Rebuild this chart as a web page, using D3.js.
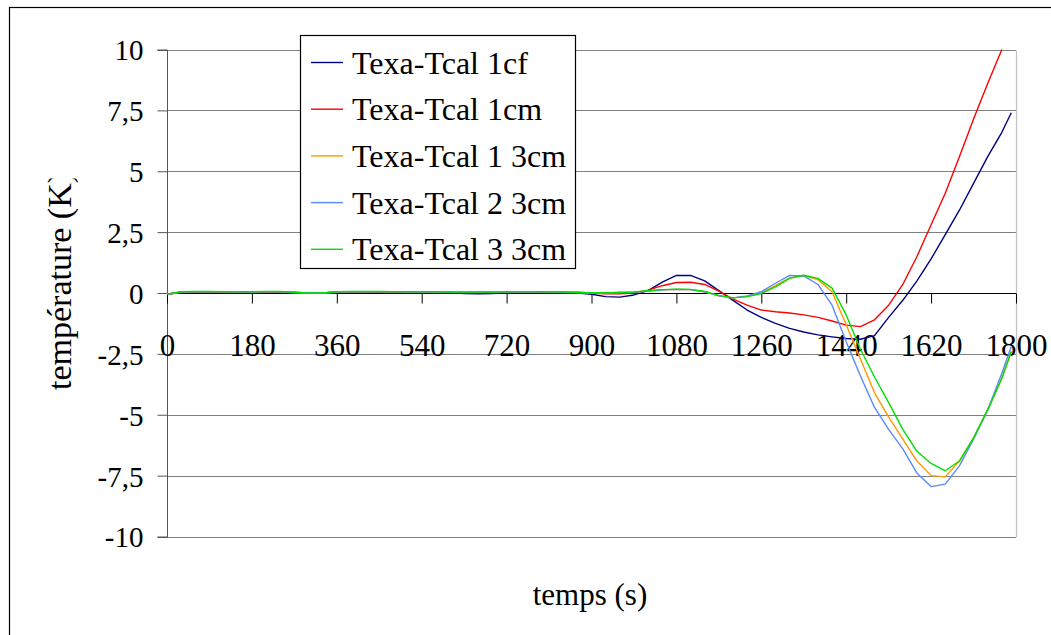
<!DOCTYPE html>
<html>
<head>
<meta charset="utf-8">
<script src="https://cdn.jsdelivr.net/npm/d3@7"></script>
<style>
  html, body { margin: 0; padding: 0; background: #fff; }
  svg { display: block; }
  svg text { font-family: "Liberation Serif", "Times New Roman", Times, "DejaVu Serif", serif !important; fill: #000; }
</style>
</head>
<body>
<svg id="chart" width="1051" height="635"></svg>
<script>
// ---- data ----
const times = [0,30,60,90,120,150,180,210,240,270,300,330,360,390,420,450,480,510,540,570,
  600,630,660,690,720,750,780,810,840,870,900,930,960,990,1020,1050,1080,1110,1140,1170,
  1200,1230,1260,1290,1320,1350,1380,1410,1440,1470,1500,1530,1560,1590,1620,1650,1680,1710,1740,1770,1790];

const seriesNames = ["Texa-Tcal 1cf", "Texa-Tcal 1cm", "Texa-Tcal 1 3cm", "Texa-Tcal 2 3cm", "Texa-Tcal 3 3cm"];
const seriesColors = ["#000080", "#ff0000", "#ff9900", "#5b87ff", "#00e000"];

const t1cf = [-0.05,0.04,0.05,0.05,0.04,0.04,0.04,0.05,0.05,0.02,0.0,0.0,0.04,0.05,0.05,0.05,0.05,0.04,0.04,0.03,
  0.02,-0.02,-0.03,-0.02,0.02,0.03,0.03,0.03,0.02,0.0,-0.05,-0.15,-0.17,-0.08,0.1,0.45,0.72,0.72,0.5,0.1,
  -0.3,-0.7,-1.0,-1.25,-1.45,-1.6,-1.72,-1.8,-1.87,-1.9,-1.75,-1.0,-0.3,0.5,1.4,2.4,3.4,4.5,5.6,6.6,7.4];

const t1cm = [-0.05,0.03,0.04,0.05,0.04,0.03,0.02,0.04,0.05,0.02,0.0,0.0,0.03,0.04,0.04,0.03,0.04,0.02,0.02,0.02,
  0.02,0.01,0.02,0.02,0.03,0.03,0.03,0.02,0.02,0.02,0.0,-0.03,-0.03,0.0,0.12,0.3,0.43,0.44,0.35,0.08,
  -0.25,-0.5,-0.7,-0.77,-0.82,-0.9,-1.0,-1.15,-1.32,-1.38,-1.1,-0.5,0.35,1.5,2.8,4.1,5.6,7.15,8.6,10.0,null];

const t13cm = [-0.05,0.04,0.05,0.05,0.05,0.04,0.04,0.05,0.05,0.02,0.0,0.0,0.04,0.05,0.05,0.05,0.05,0.04,0.04,0.04,
  0.03,0.03,0.03,0.03,0.04,0.04,0.04,0.04,0.03,0.02,0.0,0.0,0.02,0.03,0.08,0.13,0.15,0.14,0.05,-0.12,
  -0.2,-0.15,0.0,0.3,0.62,0.72,0.55,0.05,-1.3,-2.7,-4.1,-5.1,-6.0,-6.9,-7.5,-7.55,-6.9,-5.95,-4.8,-3.5,-2.4];

const t23cm = [-0.05,0.04,0.05,0.05,0.05,0.04,0.04,0.05,0.05,0.02,0.0,0.0,0.04,0.05,0.05,0.05,0.05,0.04,0.04,0.04,
  0.03,0.03,0.03,0.03,0.04,0.04,0.04,0.04,0.03,0.02,0.0,0.0,0.02,0.03,0.08,0.13,0.15,0.14,0.05,-0.12,
  -0.2,-0.12,0.05,0.4,0.72,0.7,0.35,-0.5,-2.0,-3.4,-4.7,-5.6,-6.4,-7.4,-7.95,-7.85,-7.1,-6.0,-4.8,-3.3,-2.2];

const t33cm = [-0.05,0.05,0.06,0.06,0.05,0.05,0.05,0.06,0.06,0.03,0.0,0.0,0.05,0.06,0.06,0.06,0.05,0.05,0.05,0.05,
  0.04,0.04,0.04,0.04,0.05,0.05,0.05,0.05,0.04,0.03,0.01,0.01,0.02,0.04,0.09,0.14,0.16,0.15,0.06,-0.1,
  -0.2,-0.15,-0.02,0.25,0.6,0.73,0.6,0.2,-0.9,-2.3,-3.45,-4.5,-5.6,-6.5,-7.0,-7.3,-6.9,-5.95,-4.8,-3.5,-2.4];

const seriesValues = [t1cf, t1cm, t13cm, t23cm, t33cm];

const xTicks = [0,180,360,540,720,900,1080,1260,1440,1620,1800];
const yTicks = [-10,-7.5,-5,-2.5,0,2.5,5,7.5,10];
const yTickLabels = ["-10","-7,5","-5","-2,5","0","2,5","5","7,5","10"];
const xTitle = "temps (s)";
const yTitle = "température (K)";

// ---- layout ----
const FONT = "'Liberation Serif', 'Times New Roman', Times, 'DejaVu Serif', serif";
const svg = d3.select("#chart");
const X0 = 167, X1 = 1016, Y0 = 49.5, Y1 = 536.5;
const x = d3.scaleLinear().domain([0, 1800]).range([X0, X1]);
const y = d3.scaleLinear().domain([-10, 10]).range([Y1, Y0]);

// outer frame
svg.append("rect").attr("x", 9.5).attr("y", 7.5).attr("width", 1060).attr("height", 650)
  .attr("fill", "#fff").attr("stroke", "#000").attr("stroke-width", 1.2);

// gridlines
svg.append("g").selectAll("line").data(yTicks).join("line")
  .attr("x1", X0).attr("x2", X1)
  .attr("y1", d => Math.round(y(d)) + 0.5).attr("y2", d => Math.round(y(d)) + 0.5)
  .attr("stroke", "#808080").attr("stroke-width", 1);

// right plot border
svg.append("line").attr("x1", X1 + 0.5).attr("x2", X1 + 0.5).attr("y1", Math.round(Y0)+0.5).attr("y2", Math.round(Y1)+0.5)
  .attr("stroke", "#c0c0c0").attr("stroke-width", 1.2);

// y axis
const yAxis = d3.axisLeft(y).tickValues(yTicks).tickSize(10).tickFormat((d, i) => yTickLabels[i]).tickPadding(14);
const gy = svg.append("g").attr("transform", `translate(${X0 + 0.5},0)`).call(yAxis).attr("font-family", null);
gy.select(".domain").attr("stroke", "#555").attr("d", `M-10,${Math.round(Y0)+0.5}H0V${Math.round(Y1)+0.5}H-10`);
gy.selectAll(".tick line").attr("stroke", "#555");
gy.selectAll(".tick text").style("font-family", FONT).style("font-size", "29px").attr("dy", "0.36em").attr("fill", "#000");

// x axis at 0
const xAxis = d3.axisBottom(x).tickValues(xTicks).tickSize(10).tickFormat(d3.format("d")).tickPadding(0);
const gx = svg.append("g").attr("transform", `translate(0,${Math.round(y(0)) + 0.5})`).call(xAxis).attr("font-family", null);
gx.select(".domain").attr("stroke", "#000").attr("d", `M${X0},0H${X1}`);
gx.selectAll(".tick line").attr("stroke", "#000");
gx.selectAll(".tick text").style("font-family", FONT).style("font-size", "31px")
  .attr("y", 62).attr("dy", 0).attr("fill", "#000");

// lines
svg.append("clipPath").attr("id", "plotclip").append("rect")
  .attr("x", X0).attr("y", Y0 - 1).attr("width", X1 - X0 + 1).attr("height", Y1 - Y0 + 2);
const line = d3.line().defined(d => d[1] !== null).x(d => x(d[0])).y(d => y(d[1]));
const gl = svg.append("g").attr("clip-path", "url(#plotclip)");
seriesValues.forEach((vals, i) => {
  gl.append("path").datum(times.map((t, j) => [t, vals[j]]))
    .attr("d", line).attr("fill", "none").attr("stroke", seriesColors[i]).attr("stroke-width", 1.4)
    .attr("stroke-linejoin", "round");
});

// legend
const lg = svg.append("g");
lg.append("rect").attr("x", 300.5).attr("y", 35.5).attr("width", 275).attr("height", 233)
  .attr("fill", "#fff").attr("stroke", "#000").attr("stroke-width", 1.2);
seriesNames.forEach((name, i) => {
  const ly = 62.5 + i * 46.7;
  lg.append("line").attr("x1", 311).attr("x2", 343).attr("y1", ly).attr("y2", ly)
    .attr("stroke", seriesColors[i]).attr("stroke-width", 1.4);
  lg.append("text").attr("x", 352).attr("y", ly + 11)
    .style("font-family", FONT).style("font-size", "32px").text(name);
});

// axis titles
svg.append("text").attr("x", 590).attr("y", 605).attr("text-anchor", "middle")
  .style("font-family", FONT).style("font-size", "31px").text(xTitle);

svg.append("clipPath").attr("id", "ytclip").append("rect").attr("x", 0).attr("y", 178.5).attr("width", 120).attr("height", 400);
svg.append("g").attr("clip-path", "url(#ytclip)")
  .append("text").attr("transform", "translate(71,390) rotate(-90)")
  .attr("text-anchor", "start").style("font-family", FONT).style("font-size", "34px").text(yTitle);
</script>
</body>
</html>
